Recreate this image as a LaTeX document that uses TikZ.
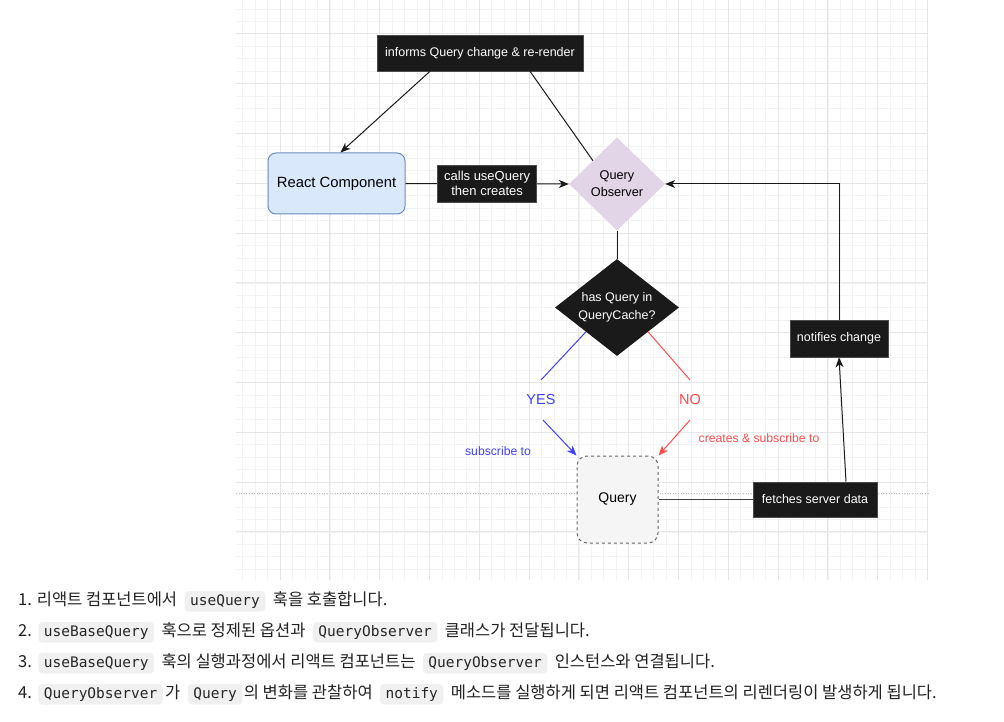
\documentclass[tikz,border=0pt]{standalone}
\usepackage{fontspec}
\setmainfont{Liberation Sans}
\newfontfamily\krfont{Noto Sans CJK KR}
\newfontfamily\codefont{DejaVu Sans Mono}
\usetikzlibrary{shapes.geometric,arrows.meta,calc}
\definecolor{gridminor}{HTML}{F3F3F3}
\definecolor{gridmajor}{HTML}{E7E7E7}
\definecolor{rcfill}{HTML}{DAE8FC}
\definecolor{rcdraw}{HTML}{6C8EBF}
\definecolor{qofill}{HTML}{E1D5E7}
\definecolor{qfill}{HTML}{F5F5F5}
\definecolor{qdraw}{HTML}{666666}
\definecolor{darkbox}{HTML}{1A1A1A}
\definecolor{edge}{HTML}{1A1A1A}
\definecolor{yesblue}{RGB}{64,64,255}
\definecolor{nored}{RGB}{255,77,77}
\definecolor{codebg}{HTML}{F0F0F0}
\definecolor{txtcol}{HTML}{222222}
\begin{document}
\begin{tikzpicture}[x=1pt,y=-1pt,
  darklabel/.style={fill=darkbox,draw=black!70,line width=0.6pt,text=white,font=\fontsize{12.5}{14.5}\selectfont,inner sep=0pt,align=center},
  conn/.style={draw=edge,line width=1pt},
  arr/.style={conn,-{Stealth[length=10pt,width=8pt,inset=3pt]}},
  krtxt/.style={font=\krfont\fontsize{16.5}{19}\selectfont,text=txtcol,inner sep=0pt,anchor=base west},
  codebox/.style={font=\codefont\fontsize{14.5}{17}\selectfont,text=black!85,fill=codebg,rounded corners=4pt,inner xsep=5.5pt,inner ysep=3pt,text height=11pt,text depth=3.5pt,anchor=base west}
]
\useasboundingbox (0,0) rectangle (1004,722);
\fill[white] (0,0) rectangle (1004,722);
% grid
\begin{scope}
\clip (236,0) rectangle (928,580);
\foreach \i in {-4,...,52} {\draw[gridminor,line width=0.6pt] ({280+\i*12.45},0) -- ({280+\i*12.45},580);}
\foreach \j in {-3,...,44} {\draw[gridminor,line width=0.6pt] (236,{33.8+\j*12.45}) -- (928,{33.8+\j*12.45});}
\foreach \i in {-1,...,13} {\draw[gridmajor,line width=0.8pt] ({280+\i*49.8},0) -- ({280+\i*49.8},580);}
\foreach \j in {0,...,11} {\draw[gridmajor,line width=0.8pt] (236,{33.8+\j*49.8}) -- (928,{33.8+\j*49.8});}
\end{scope}
\draw[black!25,dotted,line width=0.6pt] (236,493) -- (928,493);

% nodes
\node[darklabel,minimum width=206pt,minimum height=36pt] (top) at (480,53) {informs Query change \& re-render};
\node[fill=rcfill,draw=rcdraw,line width=1pt,rounded corners=8pt,minimum width=137pt,minimum height=61pt,font=\fontsize{14.8}{17}\selectfont] (rc) at (336.5,183.5) {React Component};
\node[diamond,aspect=1.03,fill=qofill,minimum width=96pt,minimum height=93pt,inner sep=0pt,align=center,font=\fontsize{12.7}{17}\selectfont] (qo) at (617,184) {Query\\Observer};
\node[diamond,aspect=1.28,fill=darkbox,minimum width=124pt,minimum height=97pt,inner sep=0pt,align=center,text=white,font=\fontsize{12.5}{17.5}\selectfont] (hq) at (617,307.5) {has Query in\\QueryCache?};
\node[fill=qfill,draw=qdraw,dashed,line width=1pt,rounded corners=10pt,minimum width=81pt,minimum height=87pt,font=\fontsize{14}{17}\selectfont,dash pattern=on 3pt off 3pt] (q) at (617.5,499.5) {Query};
\node[darklabel,minimum width=124pt,minimum height=35pt] (fs) at (815,499.5) {fetches server data};
\node[darklabel,minimum width=98pt,minimum height=37pt] (nc) at (839,338.5) {notifies change};
\coordinate (yesp) at (541,400);
\coordinate (nop) at (690,400);

% connectors
\draw[arr] ([xshift=-50pt]top.south) -- ([xshift=4pt]rc.north);
\draw[conn] ([xshift=50pt]top.south) -- (qo.north west);
\draw[arr] (rc.east) -- node[darklabel,minimum width=99pt,minimum height=37pt,font=\fontsize{13}{15}\selectfont] (cu) {calls useQuery\\then creates} (qo.west);
\draw[conn] (qo.south) -- (hq.north);
\draw[yesblue,line width=1pt] (hq.south west) -- ([shift={(0,-20)}]yesp);
\draw[yesblue,line width=1pt,-{Stealth[length=10pt,width=8pt,inset=3pt]}] ([shift={(2,20)}]yesp) -- (q.north west);
\node[text=yesblue,font=\fontsize{14.5}{17}\selectfont] (yes) at (yesp) {YES};
\draw[nored,line width=1pt] (hq.south east) -- ([shift={(0,-20)}]nop);
\draw[nored,line width=1pt,-{Stealth[length=10pt,width=8pt,inset=3pt]}] ([shift={(0,20)}]nop) -- (q.north east);
\node[text=nored,font=\fontsize{14.5}{17}\selectfont] (no) at (nop) {NO};
\node[text=yesblue,font=\fontsize{12.2}{14}\selectfont] (sub) at (498,451.5) {subscribe to};
\node[text=nored,font=\fontsize{12.2}{14}\selectfont] (csub) at (759,438.5) {creates \& subscribe to};
\draw[black!75,line width=1.6pt] (q.east) -- (fs.west);
\draw[arr] ([xshift=31pt]fs.north) -- (nc.south);
\draw[arr] (nc.north) |- (qo.east);

% Korean text
\node[krtxt] (a1) at (18,605) {1. 리액트 컴포넌트에서};
\node[codebox] (a2) at ([xshift=7pt]a1.base east) {useQuery};
\node[krtxt] (a3) at ([xshift=7pt]a2.base east) {훅을 호출합니다.};

\node[krtxt] (b1) at (18,636) {2.};
\node[codebox] (b2) at ([xshift=6pt]b1.base east) {useBaseQuery};
\node[krtxt] (b3) at ([xshift=7pt]b2.base east) {훅으로 정제된 옵션과};
\node[codebox] (b4) at ([xshift=7pt]b3.base east) {QueryObserver};
\node[krtxt] (b5) at ([xshift=7pt]b4.base east) {클래스가 전달됩니다.};

\node[krtxt] (c1) at (18,667) {3.};
\node[codebox] (c2) at ([xshift=6pt]c1.base east) {useBaseQuery};
\node[krtxt] (c3) at ([xshift=7pt]c2.base east) {훅의 실행과정에서 리액트 컴포넌트는};
\node[codebox] (c4) at ([xshift=7pt]c3.base east) {QueryObserver};
\node[krtxt] (c5) at ([xshift=7pt]c4.base east) {인스턴스와 연결됩니다.};

\node[krtxt] (d1) at (18,698) {4.};
\node[codebox] (d2) at ([xshift=6pt]d1.base east) {QueryObserver};
\node[krtxt] (d3) at ([xshift=2pt]d2.base east) {가};
\node[codebox] (d4) at ([xshift=7pt]d3.base east) {Query};
\node[krtxt] (d5) at ([xshift=1pt]d4.base east) {의 변화를 관찰하여};
\node[codebox] (d6) at ([xshift=7pt]d5.base east) {notify};
\node[krtxt] (d7) at ([xshift=7pt]d6.base east) {메소드를 실행하게 되면 리액트 컴포넌트의 리렌더링이 발생하게 됩니다.};
\end{tikzpicture}
\end{document}
